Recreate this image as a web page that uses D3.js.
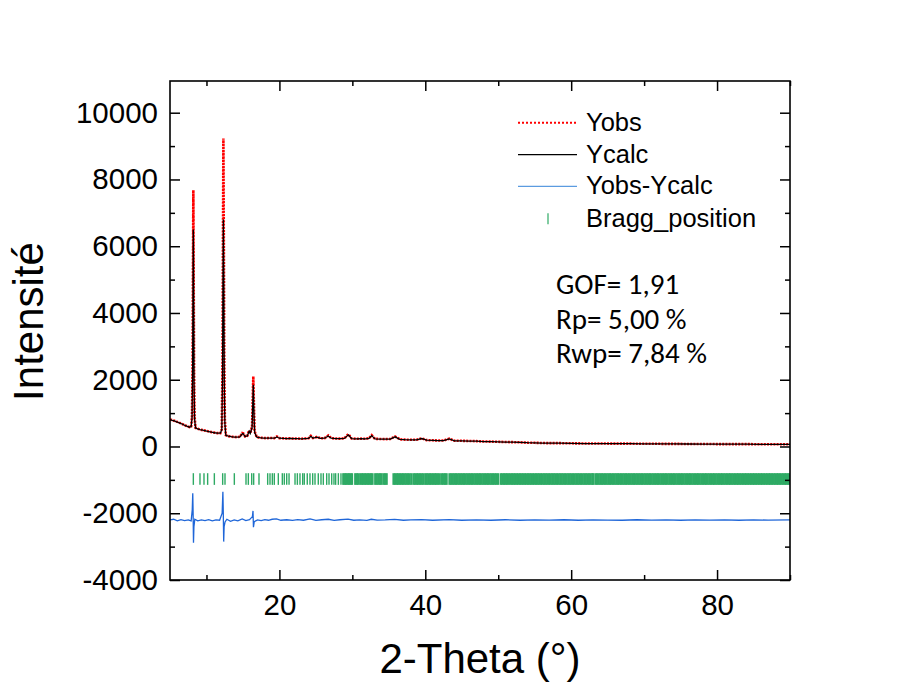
<!DOCTYPE html>
<html>
<head>
<meta charset="utf-8">
<script src="https://cdn.jsdelivr.net/npm/d3@7/dist/d3.min.js"></script>
<style>
  html, body { margin: 0; padding: 0; background: #ffffff; }
  svg { display: block; }
</style>
</head>
<body>
<svg id="chart" width="899" height="691"></svg>
<script>
// ---------------- DATA ----------------
const obsTheta = [5.0,5.3,5.6,5.9,6.2,6.5,6.8,7.1,7.4,7.7,7.9,8.02,8.1,8.15,8.2,8.25,8.3,8.37,8.5,8.8,9.1,9.5,9.9,10.3,10.7,11.1,11.5,11.9,12.1,12.2,12.26,12.32,12.38,12.44,12.52,12.65,13.0,13.4,13.8,14.2,14.6,14.9,15.05,15.3,15.6,15.85,16.0,16.25,16.35,16.42,16.5,16.6,16.9,17.3,17.8,18.3,18.8,19.3,19.65,20.0,20.5,21.0,21.5,22.0,22.5,23.0,23.5,24.0,24.3,24.6,25.2,25.6,26.2,26.7,27.1,27.7,28.3,28.9,29.45,29.9,30.5,31.2,31.8,32.3,32.65,33.1,33.8,34.5,35.2,35.85,36.5,37.2,38.0,38.8,39.5,40.2,41.0,41.8,42.5,43.3,44.0,45.0,46.0,47.0,48.0,49.0,50.0,51.0,52.0,53.0,54.0,55.0,56.0,57.0,58.5,60.0,62.0,64.0,66.0,68.0,70.0,72.0,74.0,76.0,78.0,80.0,82.0,84.0,86.0,88.0,90.0];
const yObs = [810,790,770,745,720,690,660,630,605,580,600,900,2600,5200,7680,5000,2300,900,560,530,510,490,470,450,430,415,400,400,520,2500,6000,9230,6200,2600,800,340,310,295,285,280,290,400,390,300,320,480,400,600,1500,2100,1300,450,280,265,255,250,255,250,300,250,245,240,245,235,240,230,240,250,320,255,290,245,250,330,250,240,235,245,370,240,230,235,230,250,340,230,225,220,225,300,215,205,200,200,245,190,185,180,180,235,170,170,165,160,150,145,140,135,130,125,115,110,105,100,100,95,90,90,85,85,80,80,78,76,75,72,70,70,68,66,65];
const yCalc = [805,785,765,740,715,688,658,628,602,578,595,850,2300,4500,6500,4300,1900,820,555,528,508,488,468,448,428,412,398,398,500,2100,4900,6800,4700,2000,700,335,308,293,283,278,288,385,378,298,315,460,390,560,1300,1850,1100,420,278,263,253,248,252,248,285,248,243,238,242,233,238,228,238,246,305,252,280,243,248,315,248,238,233,242,350,238,228,233,228,246,325,228,223,218,223,290,213,203,198,198,238,188,183,178,178,228,168,168,163,158,148,143,138,133,128,123,113,108,103,98,98,93,88,88,83,83,78,78,76,74,73,70,68,68,66,64,63];

const diffTheta = [5.0,5.5,6.0,6.5,7.0,7.5,7.9,8.05,8.12,8.17,8.22,8.28,8.4,8.8,9.3,9.8,10.3,10.8,11.3,11.8,12.15,12.25,12.3,12.36,12.42,12.55,12.8,13.3,13.8,14.3,14.9,15.4,15.9,16.3,16.38,16.44,16.55,17.0,17.5,18.0,18.5,19.0,19.6,20.2,21.0,21.8,22.5,23.3,24.2,25.0,25.8,26.7,27.5,28.3,29.4,30.2,31.0,32.0,32.6,33.4,34.5,35.8,37.0,38.0,39.5,41.0,43.3,45.0,47.0,49.0,51.0,53.0,55.0,57.0,59.0,61.0,63.0,65.0,67.0,69.0,71.0,73.0,75.0,77.0,79.0,81.0,83.0,85.0,87.0,90.0];
const yDiff = [-2200,-2180,-2230,-2190,-2220,-2200,-2230,-1900,-1400,-2000,-2880,-2400,-2180,-2230,-2200,-2220,-2190,-2230,-2200,-2210,-2000,-1360,-1900,-2850,-2400,-2260,-2180,-2240,-2200,-2230,-2170,-2220,-2190,-2100,-1930,-2420,-2250,-2200,-2220,-2190,-2210,-2180,-2170,-2210,-2195,-2215,-2190,-2210,-2170,-2215,-2195,-2180,-2215,-2195,-2175,-2210,-2200,-2215,-2180,-2205,-2200,-2185,-2210,-2200,-2190,-2210,-2190,-2210,-2200,-2210,-2195,-2210,-2200,-2205,-2195,-2210,-2200,-2205,-2210,-2195,-2205,-2200,-2210,-2200,-2205,-2200,-2210,-2200,-2205,-2200];

const braggPositions = [8.20,9.11,9.66,10.16,11.08,12.22,12.54,13.82,15.42,15.74,16.20,16.47,17.20,18.39,18.71,19.03,19.30,19.85,20.40,20.67,21.00,21.32,22.14,22.46,22.82,23.19,23.41,23.82,24.19,24.56,24.88,25.33,25.70,26.02,26.48,26.80,27.17,27.48,27.71,28.08,28.44,28.76,28.95,29.15,29.35,29.55,29.75,29.95,30.4,30.6,30.8,31.08,31.3,31.5,31.72,31.93,32.15,32.35,32.56,32.76,33.14,33.35,33.58,33.8,34.0,34.28,34.5,34.7,35.65,35.87,36.1,36.3,36.52,36.75,36.95,37.18,37.4,37.62,37.85,38.1,38.4,38.62,38.85,39.05,39.28,39.5,39.72,40.0,40.2,40.42,40.65,40.85,41.08,41.3,41.5,41.72,41.98,42.28,42.5,42.72,42.92,43.32,43.55,43.77,44.0,44.2,44.42,44.65,44.87,45.1,45.3,45.52,45.75,45.97,46.2,46.4,46.62,46.85,47.07,47.3,47.5,47.72,47.95,48.17,48.4,48.6,48.82,49.05,49.27,49.5,49.72,49.97,50.35,50.57,50.8,51.0,51.22,51.45,51.67,51.9,52.1,52.32,52.55,52.77,53.0,53.2,53.42,53.65,53.87,54.1,54.3,54.52,54.75,54.97,55.2,55.4,55.62,55.85,56.07,56.3,56.5,56.72,56.95,57.17,57.4,57.6,57.82,58.05,58.27,58.5,58.7,58.92,59.15,59.37,59.6,59.8,60.02,60.25,60.47,60.7,60.9,61.12,61.35,61.57,61.8,62.0,62.22,62.45,62.67,62.9,63.02,63.33,63.55,63.77,64.0,64.2,64.42,64.65,64.87,65.1,65.3,65.52,65.75,65.97,66.2,66.4,66.62,66.85,67.07,67.3,67.5,67.72,67.95,68.17,68.4,68.6,68.82,69.05,69.27,69.5,69.7,69.92,70.15,70.37,70.6,70.8,71.02,71.25,71.47,71.7,71.9,72.12,72.35,72.57,72.8,73.0,73.22,73.45,73.67,73.9,74.1,74.32,74.55,74.77,75.0,75.2,75.42,75.65,75.87,76.1,76.3,76.52,76.75,76.97,77.2,77.4,77.62,77.85,78.07,78.3,78.5,78.72,78.95,79.17,79.4,79.6,79.82,80.05,80.27,80.5,80.7,80.92,81.15,81.37,81.6,81.8,82.02,82.25,82.47,82.7,82.9,83.12,83.35,83.57,83.8,84.0,84.22,84.45,84.67,84.9,85.1,85.32,85.55,85.77,86.0,86.2,86.42,86.65,86.87,87.1,87.3,87.52,87.75,87.97,88.2,88.4,88.62,88.85,89.07,89.3,89.5,89.72,89.95];
const braggTickRange = [-800, -1150];

const xDomain = [5, 90];
const yDomain = [-4000, 10950];
const xMajorTicks = [20, 40, 60, 80];
const xMinorTicks = [10, 30, 50, 70, 90];
const yMajorTicks = [-4000, -2000, 0, 2000, 4000, 6000, 8000, 10000];
const yMinorTicks = [-3000, -1000, 1000, 3000, 5000, 7000, 9000];

const legendNames = ["Yobs", "Ycalc", "Yobs-Ycalc", "Bragg_position"];
const statsLines = ["GOF= 1,91", "Rp= 5,00 %", "Rwp= 7,84 %"];
const xTitle = "2-Theta (°)";
const yTitle = "Intensité";

// ---------------- DRAWING ----------------
const svg = d3.select("#chart");
const L = 170, R = 790, T = 81, B = 580;
const x = d3.scaleLinear().domain(xDomain).range([L, R]);
const y = d3.scaleLinear().domain(yDomain).range([B, T]);

const COL_OBS = "#ff0000", COL_CALC = "#000000", COL_DIFF = "#1f66d8", COL_BRAGG = "#2eaa64";
const tickFont = "Liberation Sans, Arial, sans-serif";
const plainFormat = d => String(d);

svg.append("rect").attr("width", 899).attr("height", 691).attr("fill", "#ffffff");

svg.append("defs").append("clipPath").attr("id", "clip")
  .append("rect").attr("x", L).attr("y", T).attr("width", R - L).attr("height", B - T);

const plot = svg.append("g").attr("clip-path", "url(#clip)");

// Bragg ticks
plot.append("g").selectAll("line").data(braggPositions).join("line")
  .attr("x1", d => x(d)).attr("x2", d => x(d))
  .attr("y1", y(braggTickRange[0])).attr("y2", y(braggTickRange[1]))
  .attr("stroke", COL_BRAGG).attr("stroke-width", d => d < 28.5 ? 1.4 : 2.3);

// Difference curve
const diffData = diffTheta.map((t, i) => [t, yDiff[i]]);
plot.append("path").datum(diffData)
  .attr("fill", "none").attr("stroke", COL_DIFF).attr("stroke-width", 1.3)
  .attr("d", d3.line().x(d => x(d[0])).y(d => y(d[1])));

// Yobs (red dotted)
const obsData = obsTheta.map((t, i) => [t, yObs[i]]);
plot.append("path").datum(obsData)
  .attr("fill", "none").attr("stroke", COL_OBS).attr("stroke-width", 2.6)
  .attr("stroke-dasharray", "2,1.2")
  .attr("d", d3.line().x(d => x(d[0])).y(d => y(d[1])));

// Ycalc (black)
const calcData = obsTheta.map((t, i) => [t, yCalc[i]]);
plot.append("path").datum(calcData)
  .attr("fill", "none").attr("stroke", COL_CALC).attr("stroke-width", 1.3)
  .attr("d", d3.line().x(d => x(d[0])).y(d => y(d[1])));

// Axes
function styleAxis(g) {
  g.select(".domain").remove();
  g.selectAll(".tick line").attr("stroke", "#000").attr("stroke-width", 1.5);
  g.selectAll(".tick text").attr("font-family", tickFont).attr("font-size", 29.5).attr("fill", "#000");
}
svg.append("g").attr("transform", `translate(0,${B})`)
  .call(d3.axisBottom(x).tickValues(xMajorTicks).tickSize(-10).tickPadding(14).tickFormat(plainFormat))
  .call(styleAxis);
svg.append("g").attr("transform", `translate(0,${B})`)
  .call(d3.axisBottom(x).tickValues(xMinorTicks).tickSize(-5).tickFormat(""))
  .call(styleAxis);
svg.append("g").attr("transform", `translate(0,${T})`)
  .call(d3.axisTop(x).tickValues(xMajorTicks).tickSize(-10).tickFormat(""))
  .call(styleAxis);
svg.append("g").attr("transform", `translate(0,${T})`)
  .call(d3.axisTop(x).tickValues(xMinorTicks).tickSize(-5).tickFormat(""))
  .call(styleAxis);
svg.append("g").attr("transform", `translate(${L},0)`)
  .call(d3.axisLeft(y).tickValues(yMajorTicks).tickSize(-10).tickPadding(12).tickFormat(plainFormat))
  .call(styleAxis);
svg.append("g").attr("transform", `translate(${L},0)`)
  .call(d3.axisLeft(y).tickValues(yMinorTicks).tickSize(-5).tickFormat(""))
  .call(styleAxis);
svg.append("g").attr("transform", `translate(${R},0)`)
  .call(d3.axisRight(y).tickValues(yMajorTicks).tickSize(-10).tickFormat(""))
  .call(styleAxis);
svg.append("g").attr("transform", `translate(${R},0)`)
  .call(d3.axisRight(y).tickValues(yMinorTicks).tickSize(-5).tickFormat(""))
  .call(styleAxis);

// Frame
svg.append("rect").attr("x", L).attr("y", T).attr("width", R - L).attr("height", B - T)
  .attr("fill", "none").attr("stroke", "#000").attr("stroke-width", 1.6);

// Axis titles
svg.append("text").attr("x", (L + R) / 2).attr("y", 673)
  .attr("text-anchor", "middle").attr("font-family", tickFont).attr("font-size", 42)
  .text(xTitle);
svg.append("text").attr("transform", "translate(43,321.5) rotate(-90)")
  .attr("text-anchor", "middle").attr("font-family", tickFont).attr("font-size", 42)
  .text(yTitle);

// Legend
const lg = svg.append("g");
const rowBase = [130.7, 162.7, 194.3, 226.7];
legendNames.forEach((name, i) => {
  const cy = rowBase[i] - 8;
  if (i === 0) {
    lg.append("line").attr("x1", 518).attr("x2", 577).attr("y1", cy).attr("y2", cy)
      .attr("stroke", COL_OBS).attr("stroke-width", 2).attr("stroke-dasharray", "2,2");
  } else if (i === 1) {
    lg.append("line").attr("x1", 518).attr("x2", 577).attr("y1", cy).attr("y2", cy)
      .attr("stroke", COL_CALC).attr("stroke-width", 1.2);
  } else if (i === 2) {
    lg.append("line").attr("x1", 518).attr("x2", 577).attr("y1", cy).attr("y2", cy)
      .attr("stroke", "#5b9be0").attr("stroke-width", 1.2);
  } else {
    lg.append("line").attr("x1", 548).attr("x2", 548).attr("y1", cy - 5.5).attr("y2", cy + 5.5)
      .attr("stroke", COL_BRAGG).attr("stroke-width", 1.2);
  }
  lg.append("text").attr("x", 586).attr("y", rowBase[i])
    .attr("font-family", tickFont).attr("font-size", 25.5).attr("fill", "#000")
    .text(name);
});

// Stats text
const statBase = [294, 329.3, 363.3];
statsLines.forEach((s, i) => {
  svg.append("text").attr("x", 556).attr("y", statBase[i])
    .attr("font-family", "Carlito, Calibri, Lato, sans-serif").attr("font-size", 29).attr("fill", "#000")
    .text(s);
});
</script>
</body>
</html>
